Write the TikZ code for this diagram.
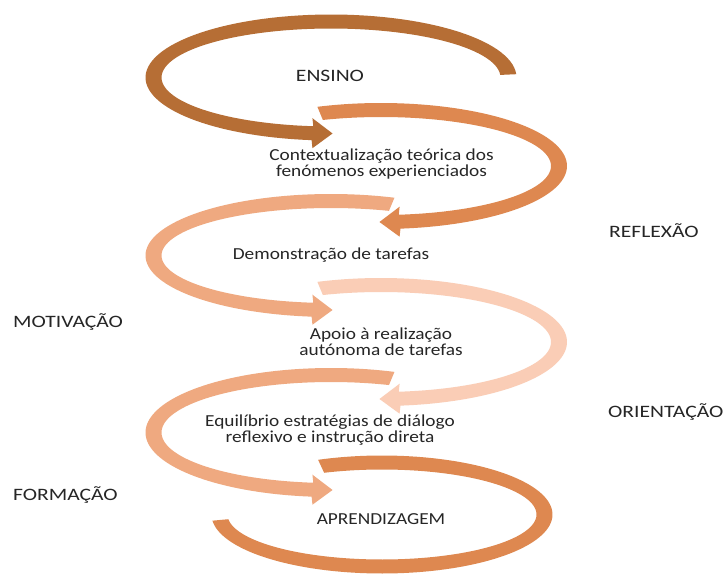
\documentclass[tikz,border=0pt]{standalone}
\usepackage{fontspec}
\setmainfont{Carlito}[FakeStretch=1.15]
\newfontfamily\capsfont{Carlito}[FakeStretch=1.24]
\usetikzlibrary{calc}
\definecolor{armA}{HTML}{B66E35}
\definecolor{armB}{HTML}{DE8850}
\definecolor{armC}{HTML}{EFA980}
\definecolor{armD}{HTML}{FACDB6}
\definecolor{txt}{HTML}{262626}
\def\wx{8}
\def\wy{7}
\def\ah{15}
% cx cy rx ry start stemend tip colour
\newcommand\spiralarm[8]{%
  \pgfmathsetmacro\Px{#1+#3*cos(#6)}%
  \pgfmathsetmacro\Py{#2+#4*sin(#6)}%
  \pgfmathsetmacro\Tx{#1+#3*cos(#7)}%
  \pgfmathsetmacro\Ty{#2+#4*sin(#7)}%
  \fill[#8] plot[domain=#5:#6,samples=90] ({#1+(#3+\wx)*cos(\x)},{#2+(#4+\wy)*sin(\x)})
    -- (\Px,\Py+\ah) -- (\Tx,\Ty) -- (\Px,\Py-\ah)
    -- plot[domain=#6:#5,samples=90] ({#1+(#3-\wx)*cos(\x)},{#2+(#4-\wy)*sin(\x)}) -- cycle;
}
% cx cy rx ry start end colour (no head)
\newcommand\spiralband[7]{%
  \fill[#7] plot[domain=#5:#6,samples=120] ({#1+(#3+\wx)*cos(\x)},{#2+(#4+\wy)*sin(\x)})
    -- plot[domain=#6:#5,samples=120] ({#1+(#3-\wx)*cos(\x)},{#2+(#4-\wy)*sin(\x)}) -- cycle;
}
\tikzset{
  lbl/.style={text=txt, font=\fontsize{16.8}{16}\selectfont, inner sep=0pt, anchor=base},
  caps/.style={lbl, font=\capsfont\fontsize{17.4}{16}\selectfont},
  side/.style={caps, anchor=base west},
  mid/.style={lbl, align=center}
}
\begin{document}
\begin{tikzpicture}[x=1pt,y=-1pt]
\useasboundingbox (0,0) rectangle (725,577);
\fill[white] (0,0) rectangle (725,577);
\spiralarm{331}{77.5}{177.5}{56}{357}{96}{89.5}{armA}
\spiralarm{381}{166}{178}{56}{250}{444}{450.5}{armB}
\spiralarm{331}{255.5}{177.5}{54.5}{290}{96}{89.5}{armC}
\spiralarm{381}{342}{178}{57}{250}{444}{450.5}{armD}
\spiralarm{331}{432.5}{177.5}{57.5}{290}{96}{89.5}{armC}
\spiralband{382}{514.5}{162.5}{52}{248}{534}{armB}

\node[caps] (ensino) at (330,82) {ENSINO};
\node[mid] (context) at (381.5,177) {Contextualização teórica dos\\fenómenos experienciados};
\node[lbl] (demo) at (331,259) {Demonstração de tarefas};
\node[mid] (apoio) at (381,355) {Apoio à realização\\autónoma de tarefas};
\node[mid] (equil) at (330,442) {Equilíbrio estratégias de diálogo\\reflexivo e instrução direta};
\node[lbl] (aprend) at (381,524) {APRENDIZAGEM};

\node[side] (motiv) at (13,327) {MOTIVAÇÃO};
\node[side] (form) at (13,500) {FORMAÇÃO};
\node[side] (refl) at (609,238) {REFLEXÃO};
\node[side] (orient) at (608,417) {ORIENTAÇÃO};
\end{tikzpicture}
\end{document}
